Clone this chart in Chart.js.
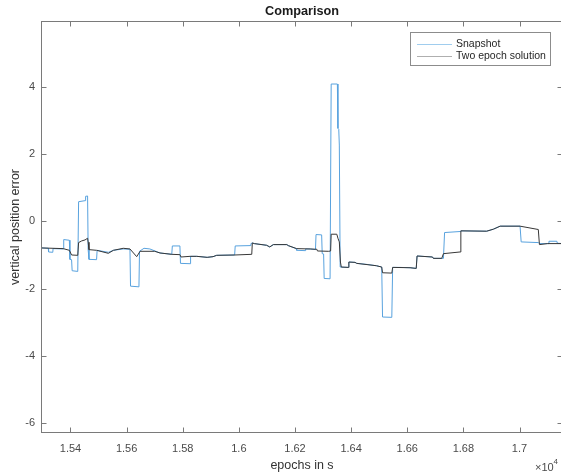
<!DOCTYPE html>
<html>
<head>
<meta charset="utf-8">
<script src="https://cdn.jsdelivr.net/npm/chart.js@4.4.1/dist/chart.umd.min.js"></script>
<style>
  html, body { margin: 0; padding: 0; background: #fff; overflow: hidden; }
  #wrap { width: 565px; height: 474px; position: relative; }
</style>
</head>
<body>
<div id="wrap"><canvas id="chart"></canvas></div>
<script>
// epochs (s) and vertical position error
const snapTimes = [
  15297, 15321, 15322, 15337, 15338, 15374, 15376, 15396, 15398, 15404,
  15406, 15426, 15429, 15452, 15454, 15461, 15463, 15466, 15493, 15495,
  15535, 15553, 15588, 15612, 15614, 15644, 15646, 15662, 15683, 15719,
  15761, 15763, 15790, 15792, 15826, 15828, 15850, 15887, 15908, 15921,
  15985, 15987, 16040, 16043, 16048, 16055, 16099, 16110, 16123, 16171,
  16176, 16204, 16206, 16236, 16238, 16254, 16273, 16275, 16295, 16297,
  16302, 16304, 16325, 16329, 16351, 16353, 16356, 16358, 16361, 16390,
  16392, 16414, 16420, 16456, 16490, 16509, 16512, 16545, 16548, 16574,
  16610, 16632, 16635, 16690, 16693, 16723, 16729, 16733, 16788, 16791,
  16883, 16907, 16931, 17002, 17006, 17067, 17073, 17103, 17105, 17133,
  17135, 17155
];
const snapValues = [
  -0.79, -0.80, -0.91, -0.92, -0.81, -0.82, -0.54, -0.56, -1.13, -1.14,
  -1.47, -1.49, 0.59, 0.62, 0.75, 0.76, -0.84, -1.13, -1.14, -0.86,
  -0.92, -0.86, -0.82, -0.83, -1.93, -1.95, -0.89, -0.80, -0.82, -0.94,
  -0.98, -0.73, -0.73, -1.25, -1.26, -1.04, -1.04, -1.07, -1.05, -1.01,
  -1.00, -0.73, -0.72, -0.66, -0.64, -0.66, -0.71, -0.76, -0.69, -0.69,
  -0.72, -0.81, -0.86, -0.87, -0.82, -0.82, -0.84, -0.39, -0.40, -0.96,
  -0.97, -1.70, -1.71, 4.10, 4.10, 2.78, 2.75, 2.28, -1.36, -1.37,
  -1.21, -1.22, -1.25, -1.28, -1.32, -1.36, -2.85, -2.86, -1.37, -1.37,
  -1.38, -1.40, -1.03, -1.06, -1.10, -1.10, -1.10, -0.33, -0.30, -0.28,
  -0.29, -0.23, -0.14, -0.14, -0.61, -0.63, -0.66, -0.66, -0.59, -0.59,
  -0.65, -0.66
];
const twoTimes = [
  15297, 15374, 15396, 15404, 15426, 15429, 15440, 15452, 15461, 15463,
  15466, 15493, 15535, 15553, 15588, 15612, 15636, 15648, 15700, 15719,
  15761, 15790, 15794, 15826, 15850, 15887, 15908, 15921, 15986, 16046,
  16048, 16055, 16099, 16110, 16123, 16171, 16176, 16206, 16254, 16278,
  16280, 16320, 16327, 16329, 16349, 16353, 16358, 16362, 16365, 16390,
  16392, 16414, 16420, 16490, 16509, 16512, 16545, 16548, 16610, 16632,
  16635, 16690, 16693, 16723, 16729, 16788, 16791, 16883, 16907, 16931,
  17002, 17067, 17071, 17100, 17155
];
const twoValues = [
  -0.79, -0.81, -0.86, -1.00, -1.01, -0.63, -0.58, -0.55, -0.50, -0.62,
  -0.84, -0.86, -0.95, -0.86, -0.80, -0.82, -1.05, -0.89, -0.89, -0.94,
  -0.98, -0.99, -1.06, -1.04, -1.04, -1.07, -1.05, -1.01, -1.00, -0.98,
  -0.64, -0.66, -0.71, -0.76, -0.69, -0.69, -0.72, -0.81, -0.82, -0.83,
  -0.88, -0.89, -0.88, -0.38, -0.38, -0.50, -0.61, -1.21, -1.36, -1.37,
  -1.21, -1.22, -1.25, -1.32, -1.36, -1.53, -1.54, -1.37, -1.38, -1.40,
  -1.03, -1.06, -1.10, -1.10, -0.96, -0.91, -0.28, -0.29, -0.23, -0.14,
  -0.14, -0.24, -0.69, -0.66, -0.66
];
const xTicks = [15400, 15600, 15800, 16000, 16200, 16400, 16600, 16800, 17000];
const yTicks = [-6, -4, -2, 0, 2, 4];
const seriesNames = ['Snapshot', 'Two epoch solution'];

const blue = 'rgb(88,162,222)';
const dark = 'rgb(55,55,55)';
const axisColor = '#7a7a7a';

function toPoints(ts, vs) {
    return ts.map((t, i) => ({ x: t, y: vs[i] }));
}

// box, inward ticks, title, legend and exponent, MATLAB style
const matlabFrame = {
    id: 'matlabFrame',
    afterDraw(chart) {
        const ctx = chart.ctx;
        const a = chart.chartArea;
        const xs = chart.scales.x;
        const ys = chart.scales.y;
        const L = Math.round(a.left) + 0.5, R = Math.round(a.right) - 0.5;
        const T = Math.round(a.top) + 0.5, B = Math.round(a.bottom) - 0.5;
        ctx.save();
        ctx.strokeStyle = axisColor;
        ctx.lineWidth = 1;
        ctx.strokeRect(L, T, R - L, B - T);
        ctx.beginPath();
        xTicks.forEach(v => {
            const px = Math.round(xs.getPixelForValue(v)) + 0.5;
            ctx.moveTo(px, B); ctx.lineTo(px, B - 5);
            ctx.moveTo(px, T); ctx.lineTo(px, T + 5);
        });
        yTicks.forEach(v => {
            const py = Math.round(ys.getPixelForValue(v)) + 0.5;
            ctx.moveTo(L, py); ctx.lineTo(L + 5, py);
            ctx.moveTo(R, py); ctx.lineTo(R - 5, py);
        });
        ctx.stroke();

        // title
        ctx.fillStyle = '#1a1a1a';
        ctx.font = 'bold 12.7px "Liberation Sans", Arial, sans-serif';
        ctx.textAlign = 'center';
        ctx.textBaseline = 'middle';
        ctx.fillText('Comparison', (a.left + a.right) / 2, 11.5);

        // legend
        const bx = 410.5, by = 32.5, bw = 140, bh = 33;
        ctx.fillStyle = '#fff';
        ctx.fillRect(bx, by, bw, bh);
        ctx.strokeStyle = '#8c8c8c';
        ctx.strokeRect(bx, by, bw, bh);
        ctx.font = '10.5px "Liberation Sans", Arial, sans-serif';
        ctx.textAlign = 'left';
        const legendColors = ['rgb(160,205,238)', 'rgb(175,175,175)'];
        seriesNames.forEach((name, i) => {
            const ly = 44 + i * 12;
            ctx.strokeStyle = legendColors[i];
            ctx.beginPath();
            ctx.moveTo(417, ly + 0.5);
            ctx.lineTo(452, ly + 0.5);
            ctx.stroke();
            ctx.fillStyle = '#262626';
            ctx.fillText(name, 456, ly + 0.5);
        });

        // x10^4 exponent
        ctx.fillStyle = '#4a4a4a';
        ctx.textBaseline = 'alphabetic';
        ctx.font = '11px "Liberation Sans", Arial, sans-serif';
        ctx.fillText('\u00d710', 535, 471);
        ctx.font = '8px "Liberation Sans", Arial, sans-serif';
        ctx.fillText('4', 553.5, 464);
        ctx.restore();
    }
};

document.addEventListener('DOMContentLoaded', () => {
    const ctx = document.getElementById('chart').getContext('2d');
    new Chart(ctx, {
        type: 'line',
        data: {
            datasets: [
                {
                    label: seriesNames[0],
                    data: toPoints(snapTimes, snapValues),
                    borderColor: blue,
                    borderWidth: 1,
                    pointRadius: 0,
                    tension: 0,
                    order: 2
                },
                {
                    label: seriesNames[1],
                    data: toPoints(twoTimes, twoValues),
                    borderColor: dark,
                    borderWidth: 1,
                    pointRadius: 0,
                    tension: 0,
                    order: 1
                }
            ]
        },
        options: {
            responsive: true,
            maintainAspectRatio: false,
            animation: false,
            layout: { padding: { top: 21, right: 2, left: 0, bottom: 0 } },
            plugins: {
                legend: { display: false },
                title: { display: false },
                tooltip: { enabled: false }
            },
            scales: {
                x: {
                    type: 'linear',
                    min: 15295,
                    max: 17155,
                    grid: { display: false, drawTicks: false },
                    border: { display: false },
                    afterBuildTicks: s => { s.ticks = xTicks.map(v => ({ value: v })); },
                    afterFit: s => { s.height = 41; },
                    ticks: {
                        autoSkip: false,
                        maxRotation: 0,
                        padding: 9,
                        color: '#4a4a4a',
                        font: { family: '"Liberation Sans", Arial, sans-serif', size: 11 },
                        callback: v => String(parseFloat((v / 1e4).toFixed(2)))
                    },
                    title: {
                        display: true,
                        text: 'epochs in s',
                        color: '#333',
                        padding: { top: 0, bottom: 1 },
                        font: { family: '"Liberation Sans", Arial, sans-serif', size: 12.5 }
                    }
                },
                y: {
                    min: -6.31,
                    max: 5.98,
                    grid: { display: false, drawTicks: false },
                    border: { display: false },
                    afterBuildTicks: s => { s.ticks = yTicks.map(v => ({ value: v })); },
                    afterFit: s => { s.width = 41; },
                    ticks: {
                        padding: 6,
                        color: '#4a4a4a',
                        font: { family: '"Liberation Sans", Arial, sans-serif', size: 11 }
                    },
                    title: {
                        display: true,
                        text: 'vertical position error',
                        color: '#333',
                        padding: { top: 8, bottom: 0 },
                        font: { family: '"Liberation Sans", Arial, sans-serif', size: 12.5 }
                    }
                }
            }
        },
        plugins: [matlabFrame]
    });
});
</script>
</body>
</html>
